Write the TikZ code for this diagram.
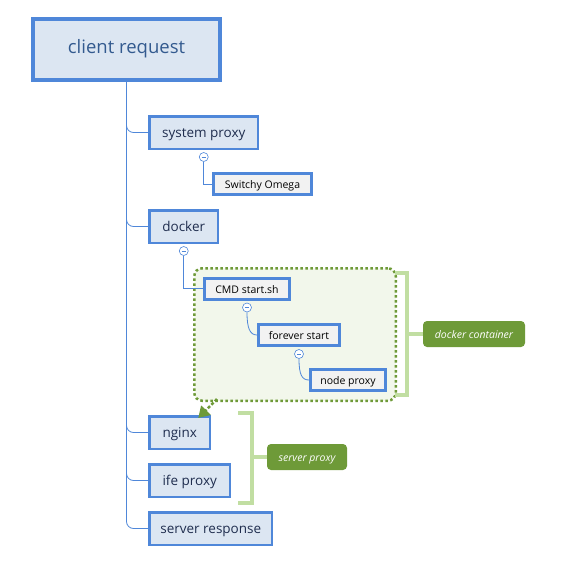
\documentclass[tikz,border=0pt]{standalone}
\usepackage{fontspec}
\setmainfont{Open Sans}
\usepackage{xcolor}
\usepackage{tikz}
\usetikzlibrary{arrows.meta}
\definecolor{boxblue}{HTML}{4F87D9}
\definecolor{boxfill}{HTML}{DCE6F2}
\definecolor{subfill}{HTML}{F2F2F2}
\definecolor{navy}{HTML}{1F2D4E}
\definecolor{topblue}{HTML}{335A8F}
\definecolor{dgreen}{HTML}{6E9A38}
\definecolor{lgreen}{HTML}{C1DEA2}
\definecolor{cfill}{HTML}{F2F7EB}

\begin{document}
\begin{tikzpicture}[x=1pt,y=-1pt,>=Stealth,
	mainbox/.style={rectangle,draw=boxblue,fill=boxfill,text=navy,line width=2.5pt,
		font=\fontsize{13.5}{16}\selectfont,inner sep=0pt,text height=0.96em,text depth=0pt,
		minimum height=32.5pt,anchor=west},
	subbox/.style={rectangle,draw=boxblue,fill=subfill,text=black,line width=3pt,
		font=\fontsize{10.5}{12}\selectfont,inner sep=0pt,text height=0.92em,text depth=0pt,
		minimum height=21pt},
	fold/.style={circle,draw=boxblue,fill=white,line width=0.6pt,minimum size=9pt,inner sep=0pt,
		path picture={\draw[boxblue,line width=0.6pt] ([xshift=-2.2pt]path picture bounding box.center)--([xshift=2.2pt]path picture bounding box.center);}},
	link/.style={draw=boxblue,line width=0.8pt},
	brace/.style={draw=lgreen,line width=4pt},
	tag/.style={rectangle,rounded corners=4pt,fill=dgreen,text=white,inner sep=0pt,
		font=\fontsize{10.5}{12}\selectfont\itshape,text height=0.95em,text depth=0pt,
		minimum height=26pt}]
	
	\useasboundingbox (0,0) rectangle (573,576);
	
	% 容器
	\node[rectangle,draw=dgreen,fill=cfill,line width=2.5pt,dash pattern=on 2.5pt off 2.5pt,
	rounded corners=8pt,minimum width=201.5pt,minimum height=132.5pt] (dc) at (295,334.5){};
	
	\node[rectangle,draw=boxblue,fill=boxfill,text=topblue,line width=4pt,inner sep=0pt,
	font=\fontsize{18.5}{22}\selectfont,text height=0.84em,text depth=0pt,
	minimum width=187pt,minimum height=61pt] 
	(cr) at (126.5,49.5){client request};
	
	\foreach \i/\name/\y/\w in {sp/system proxy/132.5/108.5,dk/docker/226.5/68.5,nx/nginx/432.5/60.5,
		ife/ife proxy/480.5/80.5,sr/server response/528.5/122.5}{
		\node[mainbox,minimum width=\w pt] (\i) at (148.25,\y){\name};
	}
	
	\foreach \i/\name/\x/\y/\w in {so/Switchy Omega/262.5/184/98,cmd/CMD start.sh/247/288.5/85,
		fs/forever start/299/335/81,np/node proxy/348/380/75}{
		\node[subbox,minimum width=\w pt] (\i) at (\x,\y){\name};
	}
	
	\foreach \i/\p in {f1/sp,f2/dk,f3/cmd,f4/fs}{
		\node[fold] (\i) at ([yshift=-7pt]\p.south){};
	}
	
	% 主干
	\foreach \i in {sp,dk,nx,ife,sr}{
		\draw[link,rounded corners=7pt] (cr.south) |- (\i.west);}
	
	\draw[link] (f1.south) |- (so.west);
	\draw[link] (f2.south) |- (cmd.west);
	\draw[link] (f3.south) .. controls +(0,16) and +(-7,0) .. (fs.west);
	\draw[link] (f4.south) .. controls +(0,16) and +(-7,0) .. (np.west);
	
	\draw[dgreen,line width=2.5pt,dash pattern=on 3pt off 2pt,-{Triangle[length=11pt,width=13pt]}] 
	([xshift=24pt,yshift=3pt]dc.south west)--([xshift=-13pt,yshift=-3pt]nx.north east);
	
	% 括号
	\node[tag,minimum width=102pt] (dcl) at (474,334){docker container};
	\node[tag,minimum width=80pt] (svl) at (307,457){server proxy};
	\coordinate (b1) at (407,334);
	\coordinate (b2) at (252,457);
	\draw[brace] (395,273)--(407,273)--(407,395)--(395,395);
	\draw[brace] (b1)--(dcl.west);
	\draw[brace] (238,413)--(252,413)--(252,503)--(238,503);
	\draw[brace] (b2)--(svl.west);
	
\end{tikzpicture}
\end{document}
